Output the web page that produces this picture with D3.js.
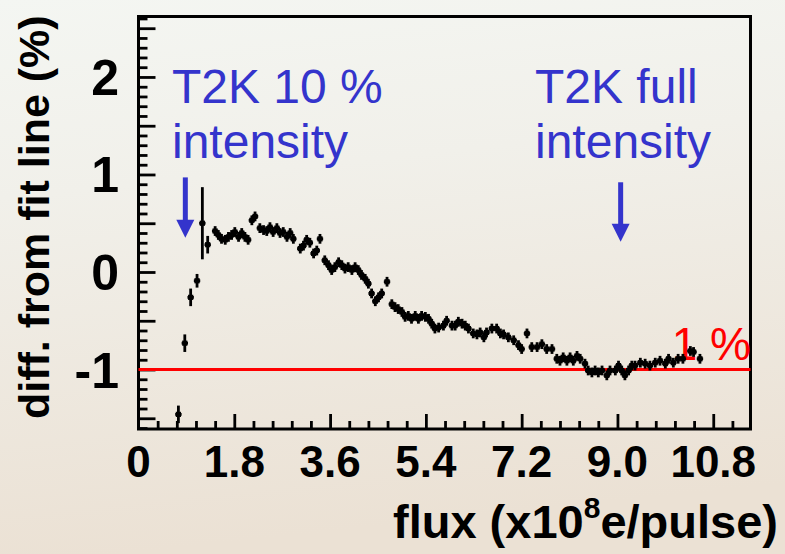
<!DOCTYPE html>
<html>
<head>
<meta charset="utf-8">
<script src="https://cdn.jsdelivr.net/npm/d3@7"></script>
<style>
  html, body { margin: 0; padding: 0; background: #efebe3; }
  svg { display: block; }
</style>
</head>
<body>
<svg id="chart" width="785" height="554"></svg>
<script>
// Beam flux (x10^8 e/pulse) for each measured bin
const flux = [
  0.75, 0.87, 0.98, 1.10, 1.20, 1.30, 1.44, 1.50, 1.56, 1.63,
  1.69, 1.75, 1.81, 1.88, 1.94, 2.00, 2.06, 2.13, 2.19, 2.28,
  2.35, 2.41, 2.47, 2.53, 2.60, 2.66, 2.72, 2.79, 2.85, 2.91,
  3.04, 3.10, 3.16, 3.22, 3.29, 3.35, 3.41, 3.50, 3.57, 3.63,
  3.69, 3.76, 3.82, 3.88, 3.94, 4.01, 4.07, 4.13, 4.19, 4.26,
  4.32, 4.38, 4.45, 4.51, 4.57, 4.67, 4.76, 4.82, 4.88, 4.95,
  5.01, 5.07, 5.13, 5.20, 5.26, 5.32, 5.39, 5.45, 5.51, 5.57,
  5.64, 5.73, 5.79, 5.89, 5.95, 6.01, 6.08, 6.14, 6.20, 6.29,
  6.36, 6.42, 6.49, 6.54, 6.64, 6.73, 6.80, 6.86, 6.95, 7.05,
  7.14, 7.20, 7.30, 7.39, 7.49, 7.58, 7.67, 7.77, 7.86, 7.92,
  7.98, 8.05, 8.11, 8.17, 8.24, 8.30, 8.39, 8.45, 8.52, 8.58,
  8.64, 8.71, 8.80, 8.86, 8.96, 9.02, 9.08, 9.14, 9.21, 9.27,
  9.33, 9.43, 9.52, 9.61, 9.71, 9.80, 9.90, 9.96, 10.05, 10.14,
  10.23, 10.37, 10.43, 10.55
];

// Deviation from the linear fit (%)
const diff = [
  -1.46, -0.73, -0.26, -0.09, 0.50, 0.28, 0.42, 0.38, 0.34, 0.33,
  0.36, 0.38, 0.41, 0.36, 0.40, 0.36, 0.33, 0.53, 0.57, 0.45,
  0.43, 0.42, 0.46, 0.41, 0.45, 0.40, 0.41, 0.36, 0.40, 0.34,
  0.24, 0.27, 0.33, 0.30, 0.19, 0.22, 0.34, 0.12, 0.07, 0.02,
  0.05, 0.10, 0.07, 0.035, 0.05, 0.02, 0.05, 0.02, -0.03, -0.07,
  -0.12, -0.22, -0.30, -0.26, -0.22, -0.10, -0.33, -0.36, -0.38, -0.41,
  -0.46, -0.45, -0.48, -0.45, -0.48, -0.45, -0.46, -0.48, -0.53, -0.58,
  -0.57, -0.55, -0.50, -0.55, -0.55, -0.51, -0.53, -0.55, -0.58, -0.63,
  -0.64, -0.62, -0.67, -0.62, -0.58, -0.58, -0.63, -0.64, -0.67, -0.70,
  -0.75, -0.79, -0.63, -0.77, -0.77, -0.74, -0.79, -0.79, -0.89, -0.91,
  -0.875, -0.91, -0.875, -0.91, -0.86, -0.89, -0.94, -1.01, -1.03, -1.01,
  -1.03, -1.01, -1.06, -1.01, -1.01, -0.96, -1.01, -1.06, -1.01, -0.96,
  -0.96, -0.93, -0.94, -0.96, -0.93, -0.91, -0.94, -0.89, -0.93, -0.89,
  -0.89, -0.81, -0.82, -0.89
];

// Statistical error on each deviation (%); the low-flux bins are the widest
const lowFluxErr = [0.09, 0.09, 0.09, 0.07, 0.37, 0.09];
const typicalErr = 0.05;
const diffErr = flux.map((f, i) => i < lowFluxErr.length ? lowFluxErr[i] : typicalErr);

// Half bin width in flux
const fluxHalfWidth = 0.06;

// Axis ticks
const xMajorTicks = [0, 1.8, 3.6, 5.4, 7.2, 9.0, 10.8];
const xTickLabels = ["0", "1.8", "3.6", "5.4", "7.2", "9.0", "10.8"];
const xMinorStep = 0.36;
const yMajorTicks = [-1.5, -1, -0.5, 0, 0.5, 1, 1.5, 2, 2.5];
const yTickLabels = [-1, 0, 1, 2];
const yMinorStep = 0.1;

// Reference level and annotations
const limitLevel = -1;
const limitLabel = "1 %";
const intensityMarks = [
  { flux: 0.88, from: 0.97, to: 0.35, lines: ["T2K 10 %", "intensity"], textX: 172 },
  { flux: 9.06, from: 0.92, to: 0.31, lines: ["T2K full", "intensity"], textX: 535 }
];

const svg = d3.select("#chart");
const W = 785, H = 554;

// Slide-style background wash
const defs = svg.append("defs");
const bg = defs.append("linearGradient").attr("id", "bg")
  .attr("x1", 0).attr("y1", 0).attr("x2", 0.15).attr("y2", 1);
bg.append("stop").attr("offset", 0).attr("stop-color", "#f4f6f2");
bg.append("stop").attr("offset", 0.35).attr("stop-color", "#f1f0ea");
bg.append("stop").attr("offset", 1).attr("stop-color", "#ebe1d4");
svg.append("rect").attr("width", W).attr("height", H).attr("fill", "url(#bg)");

const plot = { left: 138.5, right: 750.5, top: 16.5, bottom: 429 };
const x = d3.scaleLinear().domain([0, 11.5]).range([plot.left, plot.right]);
const y = d3.scaleLinear().domain([-1.61, 2.62]).range([plot.bottom, plot.top]);

const labelFont = "'Liberation Sans', Arial, Helvetica, sans-serif";

// Minor and major ticks, drawn inward from the bottom and left edges
const xMinor = d3.range(xMinorStep, 11.5, xMinorStep).filter(v => !xMajorTicks.some(m => Math.abs(m - v) < 1e-6));
const yMinor = d3.range(-1.6, 2.62, yMinorStep).filter(v => !yMajorTicks.some(m => Math.abs(m - v) < 1e-6));

function styleAxis(g) {
  g.select(".domain").remove();
  g.selectAll("line").attr("stroke", "#000").attr("stroke-width", 2.8);
  g.selectAll("text").remove();
}

svg.append("g").attr("transform", `translate(0,${plot.bottom})`)
  .call(d3.axisBottom(x).tickValues(xMinor).tickSize(-8)).call(styleAxis);
svg.append("g").attr("transform", `translate(0,${plot.bottom})`)
  .call(d3.axisBottom(x).tickValues(xMajorTicks.slice(1)).tickSize(-15)).call(styleAxis);
svg.append("g").attr("transform", `translate(${plot.left},0)`)
  .call(d3.axisLeft(y).tickValues(yMinor).tickSize(-9)).call(styleAxis);
svg.append("g").attr("transform", `translate(${plot.left},0)`)
  .call(d3.axisLeft(y).tickValues(yMajorTicks).tickSize(-17)).call(styleAxis);

// Frame
svg.append("rect")
  .attr("x", plot.left).attr("y", plot.top)
  .attr("width", plot.right - plot.left).attr("height", plot.bottom - plot.top)
  .attr("fill", "none").attr("stroke", "#000").attr("stroke-width", 3);

// Tick labels
svg.append("g").selectAll("text").data(xMajorTicks).join("text")
  .attr("x", d => x(d)).attr("y", 477)
  .attr("text-anchor", "middle")
  .attr("font-family", labelFont).attr("font-weight", "bold").attr("font-size", 44)
  .attr("fill", "#000")
  .text((d, i) => xTickLabels[i]);

svg.append("g").selectAll("text").data(yTickLabels).join("text")
  .attr("x", 119).attr("y", d => y(d) + 18)
  .attr("text-anchor", "end")
  .attr("font-family", labelFont).attr("font-weight", "bold").attr("font-size", 50)
  .attr("fill", "#000")
  .text(d => d);

// Axis titles
svg.append("text")
  .attr("transform", "translate(49,419) rotate(-90)")
  .attr("font-family", labelFont).attr("font-weight", "bold").attr("font-size", 43)
  .attr("fill", "#000")
  .text("diff. from fit line (%)");

const xTitle = svg.append("text")
  .attr("x", 393).attr("y", 538)
  .attr("font-family", labelFont).attr("font-weight", "bold").attr("font-size", 47)
  .attr("fill", "#000");
xTitle.append("tspan").text("flux (x10");
xTitle.append("tspan").attr("font-size", 30).attr("dy", -20).text("8");
xTitle.append("tspan").attr("dy", 20).text("e/pulse)");

// 1 % reference line
svg.append("line")
  .attr("x1", plot.left).attr("x2", plot.right)
  .attr("y1", y(limitLevel)).attr("y2", y(limitLevel))
  .attr("stroke", "#ff0000").attr("stroke-width", 3);
svg.append("text")
  .attr("x", 751).attr("y", 360).attr("text-anchor", "end")
  .attr("font-family", labelFont).attr("font-size", 46)
  .attr("fill", "#ff0000")
  .text(limitLabel);

// Data points with error bars
const pts = flux.map((f, i) => ({ f, d: diff[i], e: diffErr[i] }));
const gp = svg.append("g").attr("stroke", "#000").attr("stroke-width", 2.8);
gp.selectAll("line.ey").data(pts).join("line").attr("class", "ey")
  .attr("x1", p => x(p.f)).attr("x2", p => x(p.f))
  .attr("y1", p => y(p.d + p.e)).attr("y2", p => y(p.d - p.e));
gp.selectAll("line.ex").data(pts).join("line").attr("class", "ex")
  .attr("x1", p => x(p.f - fluxHalfWidth)).attr("x2", p => x(p.f + fluxHalfWidth))
  .attr("y1", p => y(p.d)).attr("y2", p => y(p.d));
svg.append("g").selectAll("rect").data(pts).join("rect")
  .attr("x", p => x(p.f) - 2.6).attr("y", p => y(p.d) - 2.6)
  .attr("width", 5.2).attr("height", 5.2).attr("fill", "#000");

// Intensity annotations
const blue = "#3434cc";
intensityMarks.forEach(m => {
  const g = svg.append("g");
  g.selectAll("text").data(m.lines).join("text")
    .attr("x", m.textX).attr("y", (d, i) => 103 + i * 55)
    .attr("font-family", labelFont).attr("font-size", 48)
    .attr("fill", blue)
    .text(d => d);
  const ax = x(m.flux), y0 = y(m.from), y1 = y(m.to);
  g.append("line")
    .attr("x1", ax).attr("x2", ax).attr("y1", y0).attr("y2", y1 - 14)
    .attr("stroke", blue).attr("stroke-width", 5);
  g.append("path")
    .attr("d", `M${ax - 9},${y1 - 18} L${ax + 9},${y1 - 18} L${ax},${y1} Z`)
    .attr("fill", blue);
});
</script>
</body>
</html>
